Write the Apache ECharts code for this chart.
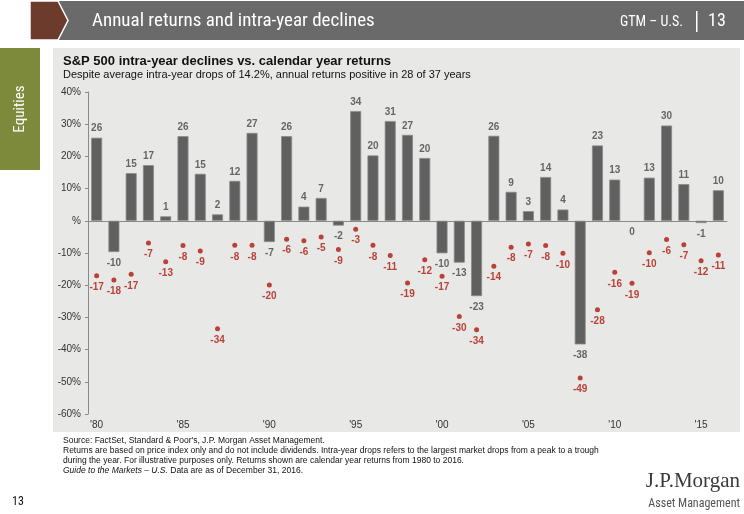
<!DOCTYPE html>
<html><head><meta charset="utf-8">
<script src="https://cdn.jsdelivr.net/npm/echarts@6/dist/echarts.min.js"></script>
<style>html,body{margin:0;padding:0;background:#fff}#c{width:744px;height:514px}</style>
</head><body><div id="c"></div>
<script>
const years = ["'80","'81","'82","'83","'84","'85","'86","'87","'88","'89","'90","'91","'92","'93","'94","'95","'96","'97","'98","'99","'00","'01","'02","'03","'04","'05","'06","'07","'08","'09","'10","'11","'12","'13","'14","'15","'16"];
const annualReturns = [25.8,-9.7,14.8,17.3,1.4,26.3,14.6,2.0,12.4,27.3,-6.6,26.3,4.4,7.1,-1.5,34.1,20.3,31.0,26.7,19.5,-10.1,-13.0,-23.4,26.4,9.0,3.0,13.6,3.5,-38.4,23.4,12.8,0.0,13.4,29.6,11.4,-0.7,9.5];
const intraYearDrops = [-17.1,-18.4,-16.6,-6.9,-12.7,-7.7,-9.4,-33.5,-7.6,-7.6,-19.9,-5.7,-6.2,-5.0,-8.9,-2.6,-7.6,-10.8,-19.3,-12.1,-17.2,-29.7,-33.8,-14.1,-8.2,-7.2,-7.7,-10.1,-48.8,-27.6,-16.0,-19.4,-9.9,-5.8,-7.4,-12.4,-10.6];
const yTicks = {min:-60, max:40, interval:10};

const rnd = v => v < 0 ? -Math.round(-v) : Math.round(v);
const narrow = "'Liberation Sans Narrow','Arial Narrow','Roboto Condensed',sans-serif";
const sans = "Arial,'Liberation Sans',Helvetica,sans-serif";

const chart = echarts.init(document.getElementById('c'));
chart.setOption({
  animation: false,
  backgroundColor: '#ffffff',
  grid: {left: 88, right: 17, top: 92, bottom: 100},
  xAxis: [
    {type:'category', data: years, position:'bottom',
     axisLine:{show:false, onZero:false}, axisTick:{show:false},
     axisLabel:{interval:4, color:'#333', fontSize:10, fontFamily:sans, margin:6}},
    {type:'category', data: years, position:'top',
     axisLine:{show:true, onZero:true, lineStyle:{color:'#8a8a8a', width:1}},
     axisTick:{show:false}, axisLabel:{show:false}}
  ],
  yAxis: {type:'value', min:yTicks.min, max:yTicks.max, interval:yTicks.interval,
    axisLine:{show:true, lineStyle:{color:'#8a8a8a'}},
    axisTick:{show:true, length:3, lineStyle:{color:'#8a8a8a'}},
    splitLine:{show:false},
    axisLabel:{color:'#333', fontSize:10, fontFamily:sans, margin:7,
      formatter: v => v === 0 ? '%' : v + '%'}},
  series: [
    {type:'bar', xAxisIndex:0, barWidth:11,
     itemStyle:{color:'#606060', borderColor:'#8c8c8c', borderWidth:0.8},
     data: annualReturns.map(v => ({value:v,
       itemStyle: v === 0 ? {borderWidth:0} : undefined,
       label:{show:true, position: v > 0 ? 'top' : 'bottom', distance: v > 0 ? 4 : 6}})),
     label:{color:'#666', fontSize:10, fontWeight:'bold', fontFamily:sans,
       formatter: p => String(rnd(p.value))}},
    {type:'scatter', xAxisIndex:0, symbolSize:5, z:3,
     itemStyle:{color:'#ad160d'},
     data: intraYearDrops,
     label:{show:true, position:'bottom', distance:4, color:'#ad160d', fontSize:10,
       fontWeight:'bold', fontFamily:sans, formatter: p => String(rnd(p.value))}}
  ],
  graphic: [
    {type:'rect', z:-100, shape:{x:53, y:48, width:687, height:384}, style:{fill:'#e8e8e6'}},
    {type:'rect', z:-100, shape:{x:0, y:48, width:40, height:122}, style:{fill:'#7d8a3b'}},
    {type:'text', z:10, x:20, y:109, rotation:Math.PI/2,
     style:{text:'Equities', fill:'#fff', font:"15px "+narrow, align:'center', verticalAlign:'middle'}},
    {type:'rect', z:-100, shape:{x:58, y:1, width:686, height:39}, style:{fill:'#6a6a6a'}},
    {type:'polygon', z:-90, shape:{points:[[30,1],[58,1],[68,20.5],[58,40],[30,40]]}, style:{fill:'#6d3b2b', stroke:'#ffffff', lineWidth:1.5}},
    {type:'text', z:10, x:92, y:21, style:{text:'Annual returns and intra-year declines', fill:'#fff', font:"19px "+narrow, verticalAlign:'middle'}},
    {type:'text', z:10, x:683, y:22, style:{text:'GTM – U.S.', fill:'#fff', font:"14px "+narrow, align:'right', verticalAlign:'middle'}},
    {type:'rect', z:10, shape:{x:696, y:11, width:1.5, height:21}, style:{fill:'#fff'}},
    {type:'text', z:10, x:708, y:21, style:{text:'13', fill:'#fff', font:"18px "+narrow, verticalAlign:'middle'}},
    {type:'text', z:10, x:63, y:61, style:{text:'S&P 500 intra-year declines vs. calendar year returns', fill:'#111', font:"bold 13px "+sans, verticalAlign:'middle'}},
    {type:'text', z:10, x:63, y:75, style:{text:'Despite average intra-year drops of 14.2%, annual returns positive in 28 of 37 years', fill:'#111', font:"11px "+sans, verticalAlign:'middle'}},
    {type:'text', z:10, x:63, y:441, style:{text:"Source: FactSet, Standard & Poor's, J.P. Morgan Asset Management.", fill:'#111', font:"8.5px "+sans, verticalAlign:'middle'}},
    {type:'text', z:10, x:63, y:451, style:{text:"Returns are based on price index only and do not include dividends. Intra-year drops refers to the largest market drops from a peak to a trough", fill:'#111', font:"8.5px "+sans, verticalAlign:'middle'}},
    {type:'text', z:10, x:63, y:461, style:{text:"during the year. For illustrative purposes only. Returns shown are calendar year returns from 1980 to 2016.", fill:'#111', font:"8.5px "+sans, verticalAlign:'middle'}},
    {type:'text', z:10, x:63, y:471, style:{text:"{i|Guide to the Markets – U.S.} Data are as of December 31, 2016.", fill:'#111', font:"8.5px "+sans, verticalAlign:'middle',
      rich:{i:{fontStyle:'italic', fontSize:8.5, fontFamily:sans, fill:'#111'}}}},
    {type:'text', z:10, x:12, y:502, style:{text:'13', fill:'#111', font:"12px "+narrow, verticalAlign:'middle'}},
    {type:'text', z:10, x:740, y:481, style:{text:'J.P.Morgan', fill:'#3a3a3a', font:"21px 'Liberation Serif','Times New Roman',serif", align:'right', verticalAlign:'middle'}},
    {type:'text', z:10, x:740, y:504, style:{text:'Asset Management', fill:'#555', font:"12px "+narrow, align:'right', verticalAlign:'middle'}}
  ]
});
</script></body></html>
